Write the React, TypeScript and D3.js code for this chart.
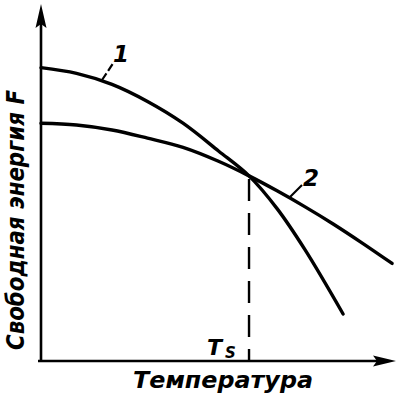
import React from "react";
import * as d3 from "d3";

// Temperature (arbitrary units) and free energy values for the two phases
const curve1T = [0, 1, 2, 3, 4, 5, 5.86, 6.65, 7.44, 8.51];
const curve1F = [8.24, 8.08, 7.77, 7.29, 6.68, 5.9, 5.2, 4.28, 3.12, 1.32];
const curve2T = [0, 1, 2, 3, 4, 5, 5.86, 6.65, 7.44, 8.23, 9.04, 9.89];
const curve2F = [6.68, 6.63, 6.49, 6.26, 6.0, 5.61, 5.2, 4.78, 4.33, 3.85, 3.32, 2.74];
const Ts = 5.86;
const TsF = 5.2;
const curveLabels = ["1", "2"];
const xTitle = "Температура";
const yTitle = "Свободная энергия F";

const W = 400;
const H = 400;

export default function App() {
  const x = d3.scaleLinear().domain([0, 10]).range([41, 396]);
  const y = d3.scaleLinear().domain([0, 10]).range([361, 5]);
  const line = d3
    .line<[number, number]>()
    .x((d) => x(d[0]))
    .y((d) => y(d[1]))
    .curve(d3.curveCatmullRom.alpha(0.5));
  const c1 = curve1T.map((t, i) => [t, curve1F[i]] as [number, number]);
  const c2 = curve2T.map((t, i) => [t, curve2F[i]] as [number, number]);

  const x0 = x(0);
  const y0 = y(0);
  const xEnd = x(10);
  const yEnd = y(10);
  const font = "'DejaVu Sans', 'Liberation Sans', sans-serif";

  return (
    <svg
      width={W}
      height={H}
      style={{ position: "absolute", left: 0, top: 0, background: "#fff" }}
    >
      {/* axes */}
      <line x1={x0} y1={y0 + 1} x2={x0} y2={yEnd + 16} stroke="#000" strokeWidth={2.6} />
      <line x1={x0 - 3} y1={y0} x2={xEnd - 16} y2={y0} stroke="#000" strokeWidth={2.6} />
      <path
        d={`M${x0},${yEnd - 1} L${x0 - 5.5},${yEnd + 23} L${x0},${yEnd + 19} L${x0 + 5.5},${yEnd + 23} Z`}
        fill="#000"
      />
      <path
        d={`M${xEnd},${y0} L${xEnd - 23},${y0 - 5.5} L${xEnd - 19},${y0} L${xEnd - 23},${y0 + 5.5} Z`}
        fill="#000"
      />

      {/* Ts dashed line */}
      <line
        x1={x(Ts)}
        y1={y(TsF) + 3}
        x2={x(Ts)}
        y2={y0}
        stroke="#000"
        strokeWidth={2.4}
        strokeDasharray="22 12"
      />

      {/* curves */}
      <path d={line(c1) || ""} fill="none" stroke="#000" strokeWidth={3.4} strokeLinecap="round" />
      <path d={line(c2) || ""} fill="none" stroke="#000" strokeWidth={3.4} strokeLinecap="round" />

      {/* leaders and labels */}
      <line x1={102} y1={80} x2={114} y2={62} stroke="#000" strokeWidth={2.2} strokeDasharray="8 3" />
      <text x={113} y={62} fontFamily={font} fontStyle="italic" fontWeight="bold" fontSize={23}>
        {curveLabels[0]}
      </text>
      <line x1={290} y1={197} x2={302} y2={185} stroke="#000" strokeWidth={2.2} />
      <text x={303} y={186} fontFamily={font} fontStyle="italic" fontWeight="bold" fontSize={23}>
        {curveLabels[1]}
      </text>

      {/* Ts label */}
      <text x={207} y={355} fontFamily={font} fontStyle="italic" fontWeight="bold" fontSize={22}>
        T
      </text>
      <text x={225} y={358} fontFamily={font} fontStyle="italic" fontWeight="bold" fontSize={15}>
        S
      </text>

      {/* axis titles */}
      <text
        x={133}
        y={388}
        fontFamily={font}
        fontStyle="italic"
        fontWeight="bold"
        fontSize={23}
        textLength={180}
        lengthAdjust="spacingAndGlyphs"
      >
        {xTitle}
      </text>
      <text
        transform="translate(24,350) rotate(-90)"
        fontFamily={font}
        fontStyle="italic"
        fontWeight="bold"
        fontSize={24}
        textLength={260}
        lengthAdjust="spacingAndGlyphs"
      >
        {yTitle}
      </text>
    </svg>
  );
}
